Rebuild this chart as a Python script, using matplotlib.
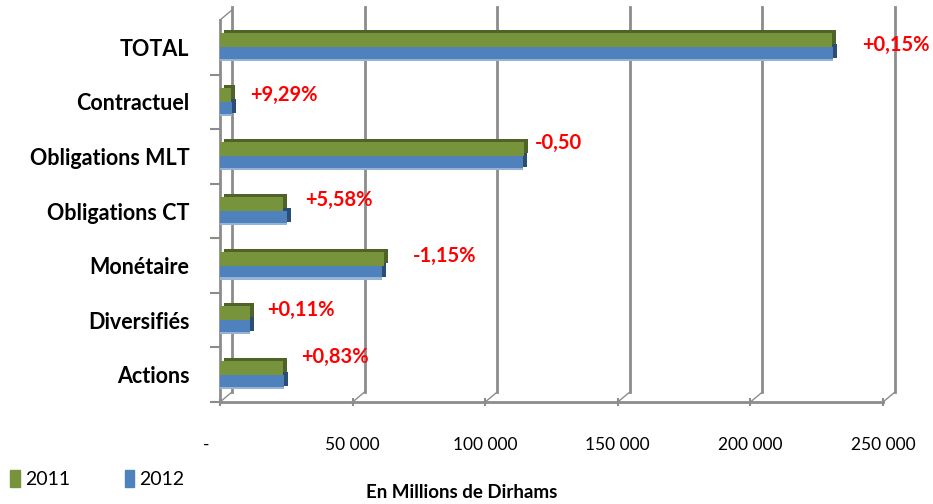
import matplotlib.pyplot as plt
import matplotlib.transforms as mtransforms
from matplotlib.patches import Patch
import numpy as np

plt.rcParams['font.family'] = ['Lato', 'DejaVu Sans']

# data (millions of dirhams)
categories = ['Actions', 'Diversifiés', 'Monétaire', 'Obligations CT',
              'Obligations MLT', 'Contractuel', 'TOTAL']
values_2011 = [23750, 11300, 61800, 23750, 114800, 4100, 230900]
values_2012 = [23950, 11310, 61100, 25080, 114230, 4480, 231250]
changes = ['+0,83%', '+0,11%', '-1,15%', '+5,58%', '-0,50', '+9,29%', '+0,15%']
xticks = [0, 50000, 100000, 150000, 200000, 250000]
xtick_labels = ['-', '50 000', '100 000', '150 000', '200 000', '250 000']

# label offsets in pixels from the bar end (layout only)
label_dx = [13, 12, 24, 14, 5, 13, 24]
label_dy = [18, 10, 10, 11, 13, 7, 2]

green, green_dark = '#77933C', '#4F6228'
blue, blue_dark = '#4F81BD', '#2C4D75'
grid_col = '#8C8C8C'

fig = plt.figure(figsize=(9.33, 5.04), dpi=100)
ax = fig.add_axes([220/933, 102/504, 663/933, 382/504])
ax.set_xlim(0, 250000)
ax.set_ylim(-0.5, 6.5)

y = np.arange(len(categories))
h = 0.256

def shift(dx, dy):
    return ax.transData + mtransforms.ScaledTranslation(dx/100, dy/100, fig.dpi_scale_trans)

# back wall gridlines and floor diagonals
for xt in xticks:
    ax.plot([xt, xt], [-0.5, 6.55], color=grid_col, lw=2, transform=shift(12, 10),
            clip_on=False, zorder=0)
    x_disp = ax.transData.transform((xt, -0.5))
    ax.plot([x_disp[0], x_disp[0] + 12], [x_disp[1], x_disp[1] + 10], color=grid_col,
            lw=1, transform=None, clip_on=False, zorder=0)
x_disp = ax.transData.transform((0, 6.5))
ax.plot([x_disp[0], x_disp[0] + 12], [x_disp[1], x_disp[1] + 10], color=grid_col,
        lw=1, transform=None, clip_on=False, zorder=0)

# 3D-ish bars: darker copy shifted up/right behind the front face
ax.barh(y + h/2, values_2011, height=h, color=green_dark, transform=shift(4, 3), zorder=2)
ax.barh(y - h/2, values_2012, height=h, color=blue_dark, transform=shift(4, 3), zorder=2)
ax.barh(y + h/2, values_2011, height=h, color=green, zorder=3)
ax.barh(y - h/2, values_2012, height=h, color=blue, zorder=3)
ax.barh(y - h + 0.02, values_2012, height=0.04, color='#95B3D7', zorder=3)

for i, txt in enumerate(changes):
    xe = max(values_2011[i], values_2012[i])
    ax.annotate(txt, (xe, y[i]), xytext=(5 + label_dx[i], label_dy[i]),
                textcoords='offset pixels', color='#FF0000', fontweight='bold',
                fontsize=14.5, ha='left', va='center', zorder=5)

for s in ['top', 'right']:
    ax.spines[s].set_visible(False)
ax.spines['left'].set_color(grid_col)
ax.spines['left'].set_linewidth(2)
ax.spines['bottom'].set_color(grid_col)
ax.spines['bottom'].set_linewidth(2)

ax.set_yticks(y - 0.5, minor=False)
ax.set_yticklabels([])
ax.set_yticks(y, minor=True)
ax.set_yticklabels(categories, minor=True, fontweight='bold', fontsize=15.5)
ax.tick_params(axis='y', which='major', length=7, color=grid_col, width=1.5)
ax.tick_params(axis='y', which='minor', length=0, pad=22)
ax.set_xticks(xticks)
ax.set_xticklabels(xtick_labels, fontsize=12.5)
ax.tick_params(axis='x', length=6, color=grid_col, width=1.5, pad=22, direction='inout')
# the "-" for zero sits a little left of its tick
dash = ax.get_xticklabels()[0]
dash.set_transform(dash.get_transform() + mtransforms.ScaledTranslation(-0.14, 0, fig.dpi_scale_trans))
ax.set_facecolor('none')

fig.text(462/933, 12/504, 'En Millions de Dirhams', fontweight='bold', fontsize=13.5,
         ha='center', va='center')
fig.legend(handles=[Patch(color=green, label='2011'), Patch(color=blue, label='2012')],
           loc='lower left', bbox_to_anchor=(0.005, 0.02), ncol=2, frameon=False,
           fontsize=14, handlelength=0.5, handleheight=1.0, handletextpad=0.25,
           columnspacing=2.8, borderaxespad=0.0, borderpad=0.3)

fig.savefig('out.png', dpi=100)
